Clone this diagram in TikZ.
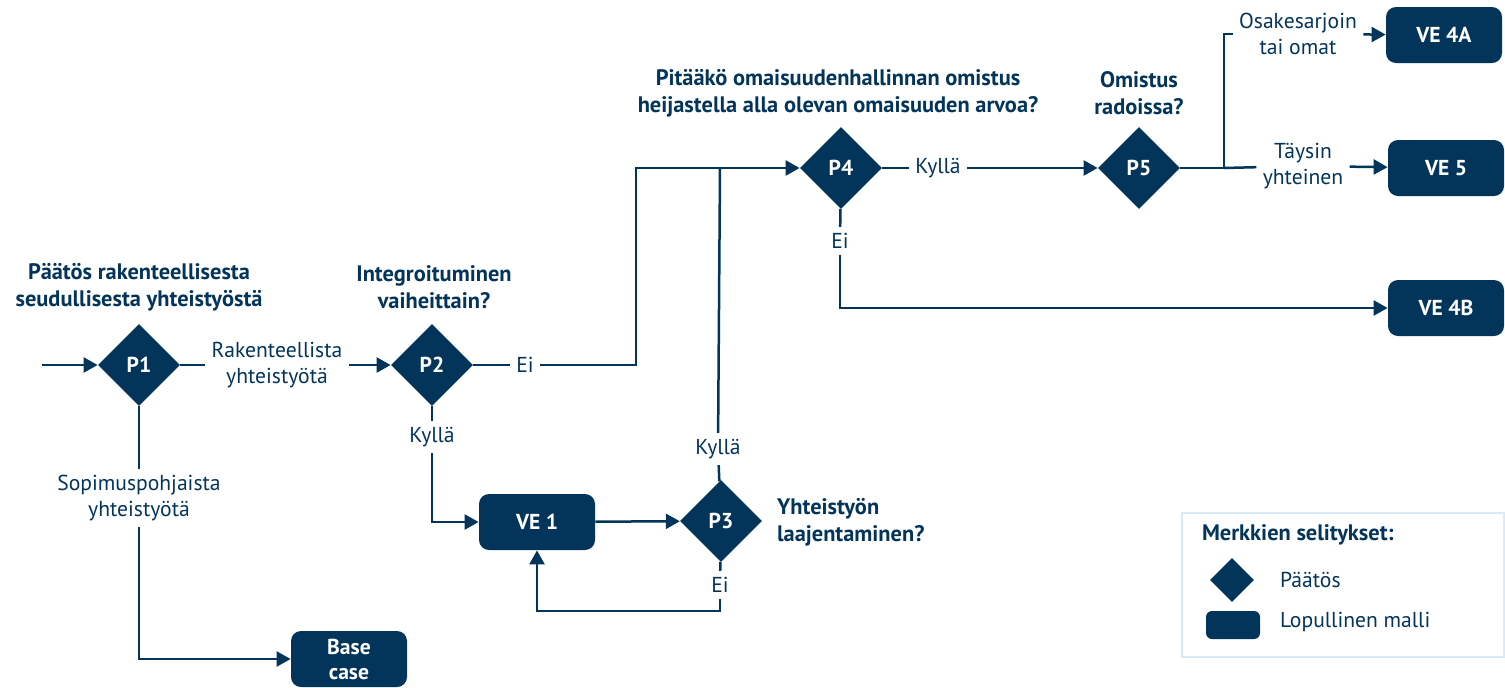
\documentclass[tikz,border=0pt]{standalone}
\usepackage{fontspec}
\setmainfont{PT Sans}
\usetikzlibrary{shapes.geometric,arrows.meta}
\definecolor{navy}{RGB}{3,52,89}
\definecolor{legendblue}{RGB}{214,234,250}
\begin{document}
\begin{tikzpicture}[x=0.5pt,y=-0.5pt,
  every node/.style={text=navy, font=\fontsize{10.8}{13}\selectfont, align=center},
  dec/.style={diamond, aspect=1, fill=navy, inner sep=0pt, minimum width=41pt, minimum height=41pt, text=white, font=\fontsize{10.8}{13}\selectfont\bfseries},
  fin/.style={rectangle, rounded corners=5pt, fill=navy, inner sep=0pt, minimum width=58pt, minimum height=28pt, text=white, font=\fontsize{10.8}{12.5}\selectfont\bfseries},
  ttl/.style={font=\fontsize{11.2}{13.5}\selectfont\bfseries},
  lbl/.style={inner sep=3pt},
  con/.style={draw=navy, line width=1.25pt},
  arr/.style={con, -{Triangle[length=7pt,width=7.5pt]}}
]
\useasboundingbox (0,0) rectangle (1505,687);

% decisions
\node[dec] (p1) at (139,365) {P1};
\node[dec] (p2) at (432,365) {P2};
\node[dec] (p3) at (721,521) {P3};
\node[dec] (p4) at (841,168) {P4};
\node[dec] (p5) at (1139,168) {P5};

% final models
\node[fin] (ve1) at (537,522) {VE 1};
\node[fin] (base) at (349,659) {Base\\case};
\node[fin] (ve4a) at (1444,35) {VE 4A};
\node[fin] (ve5) at (1446,168) {VE 5};
\node[fin] (ve4b) at (1446,308) {VE 4B};

% titles
\node[ttl] (t1) at (139,287) {Päätös rakenteellisesta\\seudullisesta yhteistyöstä};
\node[ttl] (t2) at (434,287) {Integroituminen\\vaiheittain?};
\node[ttl] (t4) at (838,93) {Pitääkö omaisuudenhallinnan omistus\\heijastella alla olevan omaisuuden arvoa?};
\node[ttl] (t5) at (1139,93) {Omistus\\radoissa?};
\node[ttl, align=left, anchor=west] (t3) at (770,522) {Yhteistyön\\laajentaminen?};

% edge labels
\node[lbl] (l1) at (277,365) {Rakenteellista\\yhteistyötä};
\node[lbl] (sop) at (139,498) {Sopimuspohjaista\\yhteistyötä};
\node[lbl] (ei2) at (525,365) {Ei};
\node[lbl] (ky2) at (432,437) {Kyllä};
\node[lbl] (ky3) at (718,449) {Kyllä};
\node[lbl] (ei3) at (720,585) {Ei};
\node[lbl] (ky4) at (938,168) {Kyllä};
\node[lbl] (ei4) at (840,241) {Ei};
\node[lbl] (osa) at (1298,34) {Osakesarjoin\\tai omat};
\node[lbl] (tay) at (1303,166) {Täysin\\yhteinen};

% helper coordinates
\coordinate (start) at (42,365);
\coordinate (c1) at (636,168);
\coordinate (c2) at (720,168);
\coordinate (c3) at (537,611);
\coordinate (c5) at (1224,168);

% connectors
\draw[arr] (start) -- (p1);
\draw[con] (p1) -- (l1);
\draw[arr] (l1) -- (p2);
\draw[con] (p1) -- (sop);
\draw[arr] (sop) |- (base);
\draw[con] (p2) -- (ei2);
\draw[arr] (ei2) -| (c1) -- (p4);
\draw[con] (p2) -- (ky2);
\draw[arr] (ky2) |- (ve1);
\draw[arr] (ve1) -- (p3);
\draw[con] (p3) -- (ky3);
\draw[con] (ky3) -- (c2);
\draw[con] (p3) -- (ei3);
\draw[arr] (ei3) |- (c3) -- (ve1);
\draw[con] (p4) -- (ky4);
\draw[arr] (ky4) -- (p5);
\draw[con] (p4) -- (ei4);
\draw[arr] (ei4) |- (ve4b);
\draw[con] (p5) -- (c5);
\draw[con] (c5) |- (osa);
\draw[arr] (osa) -- (ve4a);
\draw[con] (c5) -- (tay);
\draw[arr] (tay) -- (ve5);

% legend
\node[draw=legendblue, line width=1pt, minimum width=161pt, minimum height=72pt, inner sep=0pt] (leg) at (1342.5,584.5) {};
\node[ttl, anchor=west] (legt) at (1195,535) {Merkkien selitykset:};
\node[diamond, aspect=1, fill=navy, inner sep=0pt, minimum width=22pt, minimum height=22pt] (legd) at (1232,580) {};
\node[anchor=west] (legdt) at (1273,580) {Päätös};
\node[rectangle, rounded corners=3pt, fill=navy, inner sep=0pt, minimum width=27pt, minimum height=14pt] (legr) at (1233,625) {};
\node[anchor=west] (legrt) at (1273,622) {Lopullinen malli};
\end{tikzpicture}
\end{document}
